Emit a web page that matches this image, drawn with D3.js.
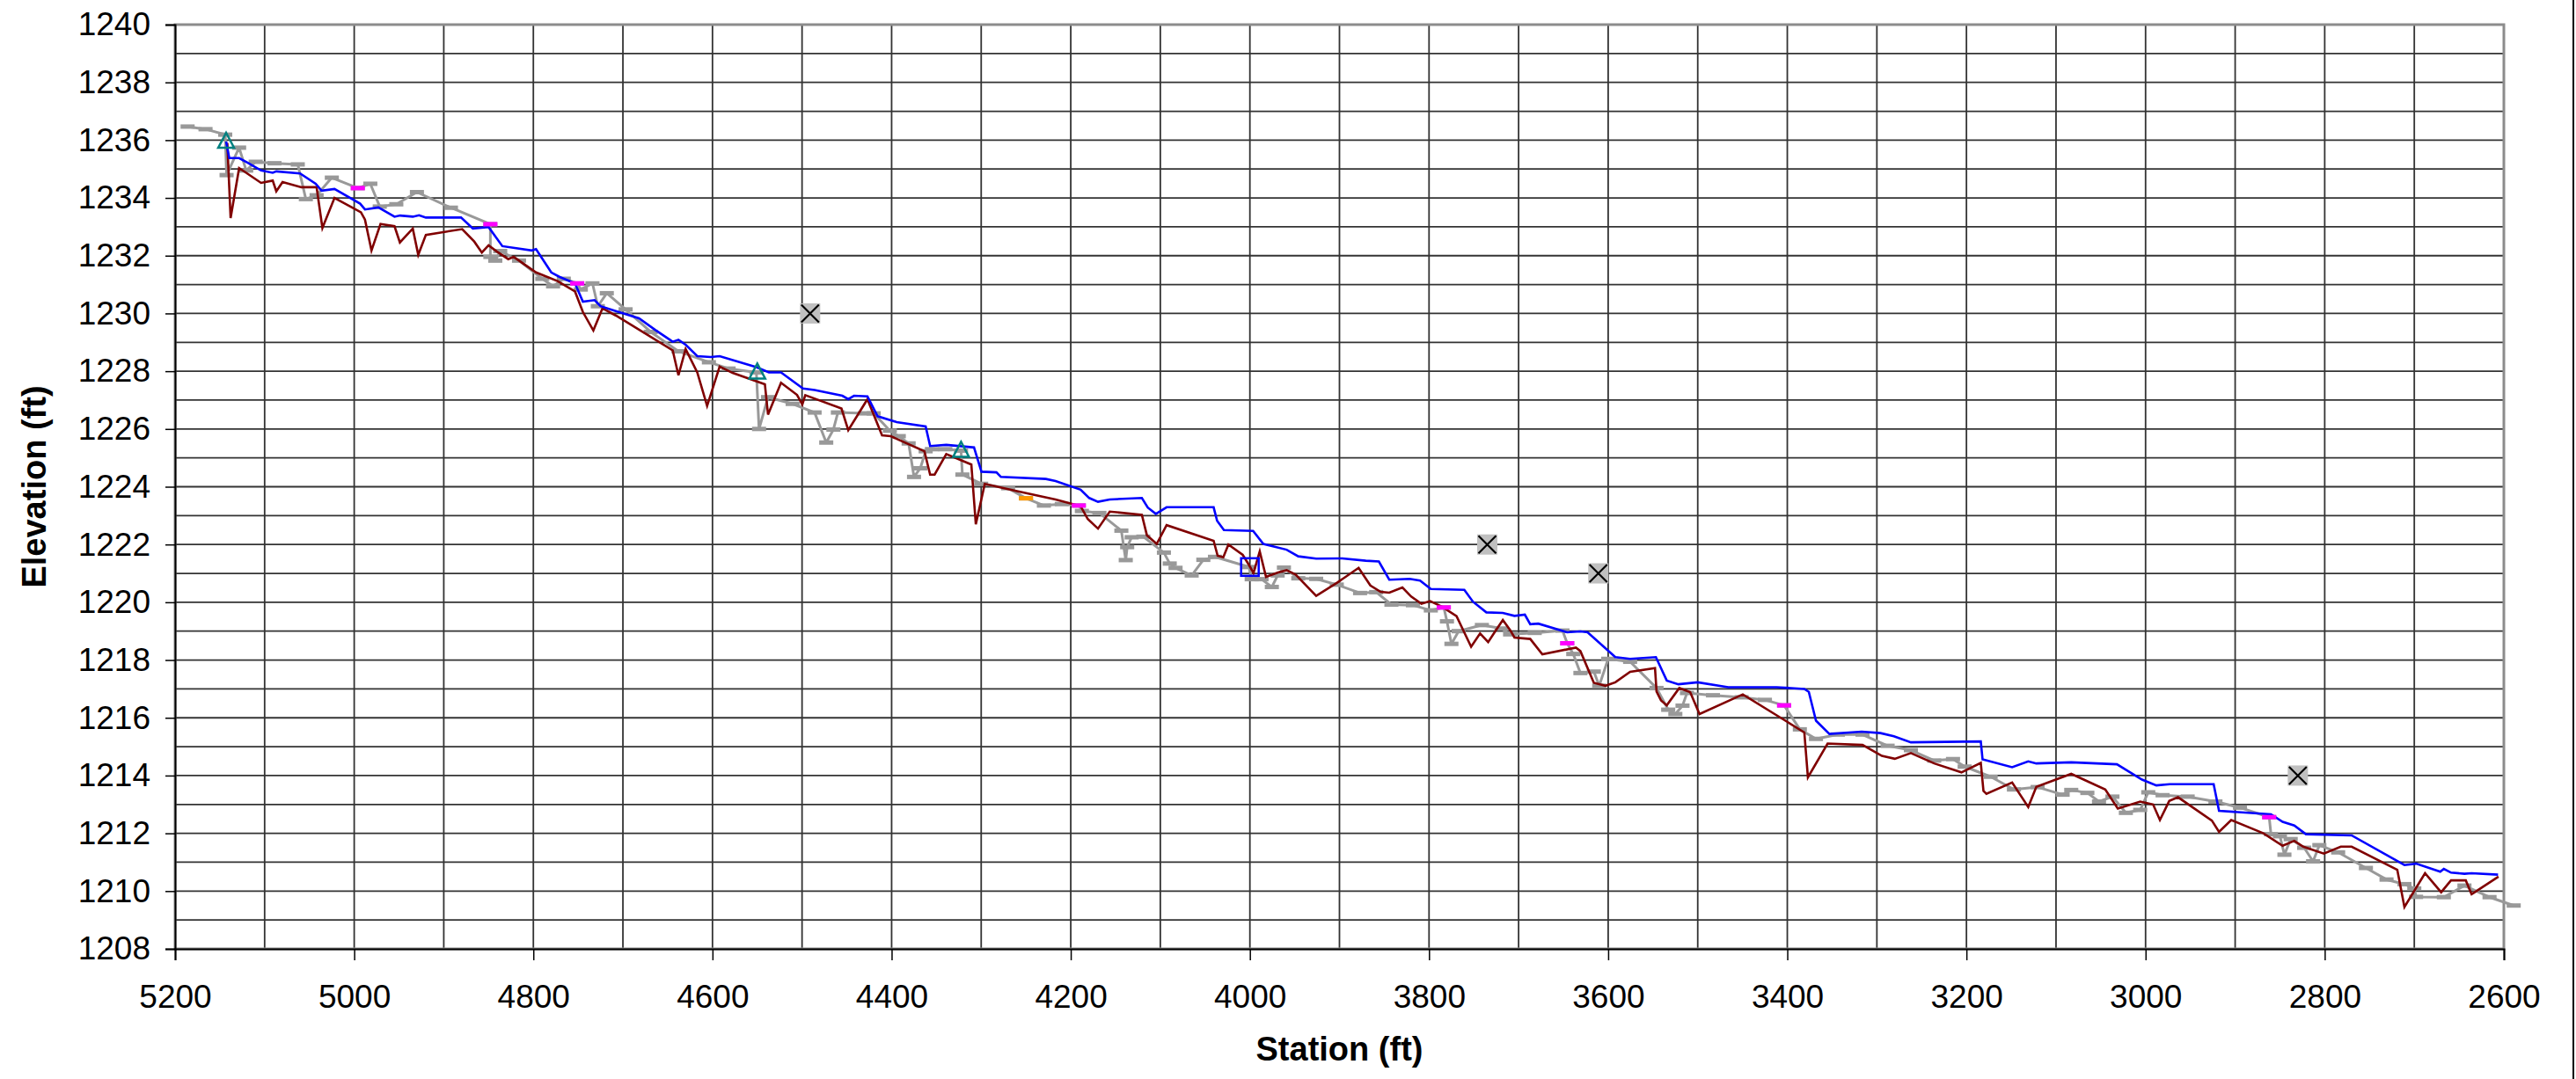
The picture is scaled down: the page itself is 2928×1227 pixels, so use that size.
<!DOCTYPE html>
<html>
<head>
<meta charset="utf-8">
<script src="https://cdn.jsdelivr.net/npm/d3@7"></script>
<style>
  body { margin: 0; background: #fff; }
  svg { display: block; }
  text { font-family: "Liberation Sans", Arial, sans-serif; fill: #000; }
</style>
</head>
<body>
<div class="contents"></div>
<script>
// station (ft), elevation (ft)
var waterSurface = [[5143,1235.95],[5139.5,1235.38],[5128.5,1235.38],[5119.7,1235.23],[5104,1234.95],[5091,1234.87],[5087,1234.92],[5060.5,1234.85],[5043,1234.49],[5036.4,1234.25],[5022,1234.31],[4993.4,1233.8],[4988,1233.6],[4973,1233.67],[4955,1233.35],[4948.7,1233.39],[4934.6,1233.35],[4927.6,1233.4],[4920,1233.32],[4880.7,1233.32],[4867.5,1232.94],[4850,1232.99],[4834.6,1232.33],[4801.7,1232.18],[4797,1232.23],[4780,1231.42],[4771,1231.27],[4753.5,1231.04],[4744.7,1230.41],[4731.6,1230.46],[4725,1230.25],[4708,1230.08],[4682,1229.83],[4664,1229.43],[4644.4,1229.02],[4638,1229.09],[4630,1228.92],[4617,1228.52],[4602,1228.49],[4592,1228.52],[4551,1228.14],[4537,1227.96],[4523.5,1227.96],[4499,1227.4],[4486,1227.35],[4455,1227.15],[4448.4,1227.03],[4442,1227.15],[4427,1227.13],[4415.7,1226.44],[4394.4,1226.24],[4362,1226.09],[4357,1225.41],[4339,1225.45],[4308,1225.36],[4299.7,1224.52],[4283,1224.5],[4278,1224.34],[4227.8,1224.27],[4217,1224.2],[4189,1223.9],[4179.4,1223.61],[4169.6,1223.48],[4156.5,1223.56],[4120.6,1223.61],[4114,1223.28],[4105,1223.06],[4093,1223.29],[4040.5,1223.29],[4036.6,1222.82],[4029,1222.5],[3996.4,1222.47],[3985,1222.02],[3959,1221.82],[3946,1221.59],[3926,1221.51],[3897,1221.52],[3870.6,1221.44],[3856,1221.41],[3844.4,1220.78],[3821.6,1220.81],[3810,1220.75],[3798,1220.46],[3760.6,1220.43],[3751,1220.02],[3736,1219.65],[3717.6,1219.63],[3704.6,1219.53],[3693,1219.57],[3687,1219.24],[3678,1219.26],[3645.8,1218.96],[3631,1218.99],[3623,1218.96],[3592,1218.1],[3575.5,1218.04],[3546.7,1218.1],[3534.6,1217.29],[3521.6,1217.16],[3500,1217.23],[3466,1217.06],[3412,1217.06],[3381,1217.0],[3376,1216.9],[3368,1215.9],[3353,1215.44],[3317,1215.52],[3296,1215.47],[3281,1215.36],[3262,1215.15],[3184,1215.18],[3182,1214.56],[3149,1214.29],[3131,1214.49],[3122,1214.42],[3083,1214.46],[3032,1214.39],[3004,1213.86],[2988,1213.66],[2973,1213.7],[2924,1213.7],[2918,1212.78],[2860,1212.66],[2847,1212.4],[2834,1212.27],[2821,1211.97],[2770,1211.93],[2711,1210.9],[2698,1210.95],[2671,1210.67],[2667,1210.77],[2659,1210.64],[2644,1210.6],[2636,1210.62],[2606.5,1210.57]];

var thalweg = [[5141.7,1235.9],[5138,1233.3],[5128.5,1235.03],[5120.6,1234.87],[5104,1234.52],[5091,1234.6],[5087,1234.23],[5080,1234.55],[5059,1234.37],[5042,1234.37],[5035.5,1232.96],[5022,1234.0],[4992.5,1233.5],[4988,1233.25],[4980.7,1232.18],[4970.6,1233.1],[4955,1233.02],[4949,1232.46],[4934.6,1232.94],[4928.5,1232.03],[4920,1232.72],[4879.4,1232.92],[4866,1232.49],[4857.5,1232.11],[4850,1232.36],[4841,1232.15],[4828,1231.88],[4822,1231.96],[4797,1231.42],[4773,1231.12],[4753.5,1230.76],[4744.7,1230.05],[4733,1229.41],[4722.8,1230.18],[4708,1229.93],[4644.4,1228.72],[4638,1227.86],[4630,1228.77],[4617,1227.96],[4606,1226.8],[4592,1228.16],[4577.5,1227.94],[4541.5,1227.55],[4538,1226.5],[4523.5,1227.6],[4505.6,1227.18],[4499.7,1226.85],[4496.4,1227.17],[4456,1226.71],[4448.4,1225.96],[4427,1227.03],[4410.7,1225.78],[4401,1225.75],[4363.4,1225.23],[4357,1224.42],[4352,1224.42],[4339,1225.13],[4311,1224.77],[4306,1222.7],[4296,1224.1],[4260,1223.85],[4217,1223.56],[4189,1223.33],[4181,1222.88],[4169.6,1222.55],[4156.5,1223.14],[4120.6,1223.03],[4115,1222.32],[4104,1222.02],[4093,1222.67],[4040.5,1222.13],[4036,1221.61],[4029.7,1221.56],[4024,1222.0],[4008,1221.64],[4001,1221.29],[3996,1221.01],[3989,1221.76],[3982,1220.88],[3968.6,1221.03],[3959,1221.11],[3949,1220.96],[3926,1220.22],[3903,1220.67],[3878.6,1221.19],[3865.5,1220.58],[3854,1220.36],[3844.4,1220.33],[3829.7,1220.51],[3820,1220.2],[3808.5,1219.95],[3798.7,1220.04],[3785.6,1219.85],[3769.3,1219.52],[3753,1218.46],[3743,1218.92],[3734,1218.62],[3726,1219.0],[3717.6,1219.39],[3709.5,1219.04],[3704.6,1218.78],[3687,1218.73],[3673.5,1218.2],[3636,1218.43],[3631,1218.31],[3616,1217.21],[3603,1217.11],[3592,1217.23],[3575.5,1217.59],[3547.7,1217.72],[3546,1216.91],[3541,1216.6],[3534.6,1216.43],[3520.6,1217.03],[3508.5,1216.89],[3498,1216.13],[3449.7,1216.81],[3399,1215.84],[3381,1215.49],[3377,1213.94],[3355,1215.11],[3316,1215.06],[3294.4,1214.68],[3280,1214.58],[3262,1214.78],[3236,1214.42],[3205.6,1214.11],[3184,1214.44],[3181,1213.47],[3177.7,1213.37],[3149,1213.76],[3131,1212.91],[3122,1213.61],[3083,1214.06],[3045,1213.52],[3031,1212.86],[3006,1213.1],[2991.6,1213.0],[2984,1212.46],[2973.6,1213.12],[2963.8,1213.25],[2926,1212.44],[2918,1212.05],[2904.4,1212.46],[2868.4,1212.0],[2847,1211.57],[2834,1211.74],[2824,1211.54],[2801,1211.3],[2782,1211.54],[2770,1211.54],[2719,1210.74],[2711,1209.45],[2688,1210.62],[2670,1209.96],[2659,1210.37],[2642.5,1210.37],[2636,1209.89],[2606,1210.5]];

var groundShots = [[5186,1236.47],[5166,1236.38],[5144,1236.19],[5142.5,1234.79],[5128.5,1235.74],[5120.6,1234.95],[5110,1235.25],[5089,1235.2],[5063,1235.16],[5054,1233.96],[5042,1234.09],[5025,1234.7],[4996,1234.34],[4982,1234.49],[4971.5,1233.7],[4953,1233.78],[4930,1234.2],[4892,1233.66],[4848,1233.09],[4848,1231.96],[4842.5,1231.83],[4837,1232.16],[4816,1231.83],[4790,1231.2],[4778,1230.94],[4766,1231.2],[4751,1231.04],[4747,1230.83],[4734,1231.04],[4728,1230.25],[4718,1230.7],[4697,1230.14],[4669,1229.36],[4638,1228.69],[4604,1228.31],[4582,1228.09],[4551,1227.96],[4548,1226.0],[4538,1227.1],[4510.5,1226.87],[4486,1226.57],[4473,1225.53],[4465,1225.98],[4460,1226.57],[4430,1226.54],[4420,1226.54],[4402,1225.94],[4392,1225.75],[4381,1225.5],[4375,1224.34],[4368,1224.64],[4362,1225.23],[4355,1225.3],[4340,1225.3],[4322.5,1225.25],[4321,1224.42],[4300,1224.1],[4270,1223.95],[4250,1223.6],[4230,1223.35],[4210,1223.4],[4191,1223.35],[4187.6,1223.16],[4168,1223.09],[4143.5,1222.48],[4138.6,1221.46],[4137,1221.91],[4132,1222.25],[4119,1222.27],[4096,1221.72],[4089.5,1221.34],[4083,1221.19],[4065,1220.93],[4052,1221.47],[4039,1221.57],[4001,1221.22],[3998,1220.8],[3987,1220.8],[3975.5,1220.53],[3969,1220.93],[3962,1221.2],[3946,1220.83],[3926,1220.81],[3903,1220.61],[3877,1220.32],[3859,1220.35],[3842,1219.92],[3818,1219.9],[3798,1219.72],[3783.5,1219.82],[3780,1219.34],[3775,1218.56],[3767,1219.0],[3741,1219.21],[3719,1219.09],[3709.5,1218.89],[3682,1218.94],[3651,1219.02],[3645.7,1218.58],[3639,1218.21],[3631,1217.55],[3616,1217.6],[3610,1217.11],[3600,1218.04],[3575.5,1217.94],[3546,1217.03],[3533,1216.28],[3525,1216.13],[3517,1216.42],[3512,1216.86],[3483,1216.78],[3451,1216.71],[3425,1216.62],[3403.6,1216.43],[3386,1215.6],[3368,1215.27],[3343.5,1215.42],[3316,1215.42],[3288,1215.03],[3262,1214.88],[3236,1214.52],[3215,1214.57],[3202,1214.31],[3173,1213.96],[3147,1213.52],[3120.5,1213.6],[3092.6,1213.34],[3083,1213.5],[3065,1213.4],[3052,1213.1],[3037,1213.27],[3022,1212.71],[3006,1212.81],[2997,1213.42],[2981,1213.32],[2953,1213.27],[2922,1213.1],[2894.6,1212.89],[2862,1212.56],[2860,1211.97],[2850,1211.9],[2845,1211.26],[2838,1211.8],[2823,1211.5],[2813,1211.03],[2806,1211.59],[2785,1211.34],[2754,1210.8],[2731,1210.4],[2711,1210.24],[2700,1210.09],[2698,1209.8],[2667,1209.79],[2644,1210.19],[2616,1209.79],[2589,1209.5]];

var pinkShots = [[4996,1234.34],[4848,1233.09],[4751,1231.04],[4191,1223.35],[3783.5,1219.82],[3645.7,1218.58],[3403.6,1216.43],[2862,1212.56]];
var orangeShots = [[4250,1223.6]];
var triangleShots = [[5143,1235.95],[4550,1227.96],[4322.5,1225.25]];
var xShots = [[4491,1230.0],[3735,1222.0],[3611,1221.0],[2830,1214.0]];
var squareShots = [[4000,1221.22]];

var xTicks = d3.range(5200, 2599, -200);
var yTicks = d3.range(1208, 1241, 2);

var width = 2928, height = 1227;
var plotL = 199, plotR = 2846, plotT = 28, plotB = 1079;

var svg = d3.select(".contents").append("svg")
  .attr("width", width)
  .attr("height", height);

var x = d3.scaleLinear().domain([5200, 2600]).range([plotL, plotR]);
var y = d3.scaleLinear().domain([1208, 1240]).range([plotB, plotT]);

// grid
svg.append("g").selectAll("line")
  .data(d3.range(5100, 2600, -100))
  .enter().append("line")
  .attr("x1", function(d){ return x(d); }).attr("x2", function(d){ return x(d); })
  .attr("y1", plotT).attr("y2", plotB)
  .style("stroke", "#333").style("stroke-width", 1.8);

svg.append("g").selectAll("line")
  .data(d3.range(1209, 1240, 1))
  .enter().append("line")
  .attr("x1", plotL).attr("x2", plotR)
  .attr("y1", function(d){ return y(d); }).attr("y2", function(d){ return y(d); })
  .style("stroke", "#333").style("stroke-width", 1.8);

// plot area border
svg.append("rect")
  .attr("x", plotL).attr("y", plotT)
  .attr("width", plotR - plotL).attr("height", plotB - plotT)
  .style("fill", "none").style("stroke", "#8c8c8c").style("stroke-width", 3);

// axes
var xAxis = svg.append("g")
  .attr("transform", "translate(0," + plotB + ")")
  .call(d3.axisBottom(x).tickValues(xTicks).tickSize(13).tickPadding(28).tickFormat(d3.format("d")));
var yAxis = svg.append("g")
  .attr("transform", "translate(" + plotL + ",0)")
  .call(d3.axisLeft(y).tickValues(yTicks).tickSize(11).tickPadding(17).tickFormat(d3.format("d")));
[xAxis, yAxis].forEach(function(a){
  a.select(".domain").style("stroke", "#000").style("stroke-width", 2);
  a.selectAll(".tick line").style("stroke", "#000").style("stroke-width", 1.5);
  a.selectAll("text").style("font-size", "37px").style("font-family", "Liberation Sans, Arial, sans-serif").style("fill", "#000");
});

// series lines
var line = d3.line().x(function(d){ return x(d[0]); }).y(function(d){ return y(d[1]); });

svg.append("path").datum(groundShots).attr("d", line)
  .style("fill", "none").style("stroke", "#999999").style("stroke-width", 3).style("stroke-linejoin", "round");

svg.selectAll(".gmark").data(groundShots).enter().append("rect")
  .attr("class", "gmark")
  .attr("x", function(d){ return x(d[0]) - 8; })
  .attr("y", function(d){ return y(d[1]) - 2.5; })
  .attr("width", 16).attr("height", 5)
  .style("fill", "#999999");

svg.append("path").datum(thalweg).attr("d", line)
  .style("fill", "none").style("stroke", "#800000").style("stroke-width", 2.6);

svg.append("path").datum(waterSurface).attr("d", line)
  .style("fill", "none").style("stroke", "#0000ff").style("stroke-width", 2.6);

// point markers
svg.selectAll(".pink").data(pinkShots).enter().append("rect")
  .attr("x", function(d){ return x(d[0]) - 8; })
  .attr("y", function(d){ return y(d[1]) - 2.5; })
  .attr("width", 16).attr("height", 5)
  .style("fill", "#ff00ff");

svg.selectAll(".orange").data(orangeShots).enter().append("rect")
  .attr("x", function(d){ return x(d[0]) - 8; })
  .attr("y", function(d){ return y(d[1]) - 2.5; })
  .attr("width", 16).attr("height", 5)
  .style("fill", "#ff9900");

svg.selectAll(".tri").data(triangleShots).enter().append("path")
  .attr("d", function(d){
    var cx = x(d[0]), cy = y(d[1]);
    return "M" + cx + "," + (cy - 10) + "L" + (cx + 9) + "," + (cy + 7) + "L" + (cx - 9) + "," + (cy + 7) + "Z";
  })
  .style("fill", "none").style("stroke", "#008080").style("stroke-width", 2.5);

svg.selectAll(".sq").data(squareShots).enter().append("rect")
  .attr("x", function(d){ return x(d[0]) - 10; })
  .attr("y", function(d){ return y(d[1]) - 10; })
  .attr("width", 20).attr("height", 20)
  .style("fill", "none").style("stroke", "#0000ff").style("stroke-width", 2.5);

var xm = svg.selectAll(".xm").data(xShots).enter().append("g")
  .attr("transform", function(d){ return "translate(" + x(d[0]) + "," + y(d[1]) + ")"; });
xm.append("rect").attr("x", -11.5).attr("y", -11.5).attr("width", 23).attr("height", 23)
  .style("fill", "#c0c0c0");
xm.append("path").attr("d", "M-10,-10L10,10M10,-10L-10,10")
  .style("stroke", "#000").style("stroke-width", 2.2);

// titles
svg.append("text")
  .attr("x", (plotL + plotR) / 2).attr("y", 1206)
  .attr("text-anchor", "middle")
  .style("font-size", "38px").style("font-weight", "bold")
  .text("Station (ft)");

svg.append("text")
  .attr("transform", "translate(52," + ((plotT + plotB) / 2) + ") rotate(-90)")
  .attr("text-anchor", "middle")
  .style("font-size", "38px").style("font-weight", "bold")
  .text("Elevation (ft)");

// chart area edge
svg.append("line")
  .attr("x1", 2925).attr("x2", 2925).attr("y1", 0).attr("y2", height)
  .style("stroke", "#000").style("stroke-width", 2);
</script>
</body>
</html>
